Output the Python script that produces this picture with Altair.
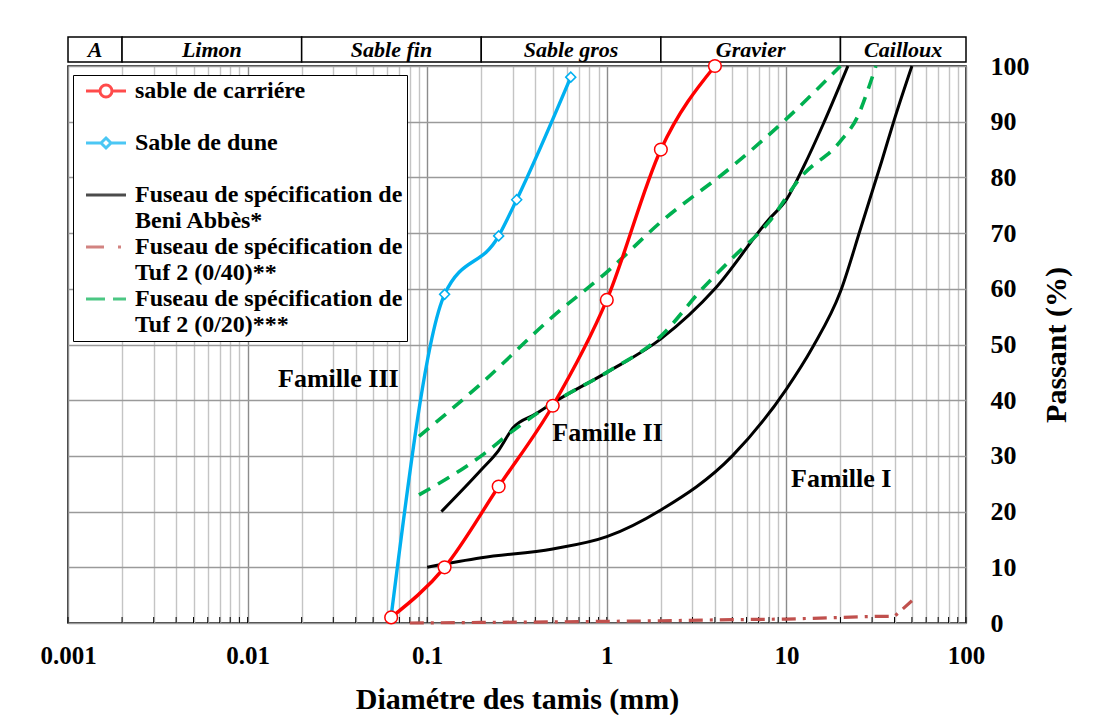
import altair as alt
import pandas as pd

# ---------------- data ----------------
carriere_x = [0.063, 0.125, 0.25, 0.5, 1, 2, 4]
carriere_y = [1, 10, 24.5, 39, 58, 85, 100]

dune_x = [0.063, 0.125, 0.25, 0.315, 0.63]
dune_y = [1.2, 59, 69.5, 76, 98]

beni_sup_x = [0.12, 0.2, 0.25, 0.3, 0.4, 0.5, 1, 2, 4, 8, 10, 12.5, 16, 22]
beni_sup_y = [20, 27.5, 31, 35, 37.5, 39.5, 45, 51, 60, 72.5, 76, 82, 89.5, 100]
beni_inf_x = [0.1, 0.2, 0.5, 1, 2, 5, 10, 14, 20, 26, 34, 40, 50]
beni_inf_y = [10, 11.7, 13.3, 15.5, 20.3, 30, 42, 49.5, 59.5, 71, 83, 90.5, 100]

tuf40_x = [0.08, 0.2, 0.5, 1, 2, 5, 10, 20, 31.5, 40, 50]
tuf40_y = [0, 0.1, 0.2, 0.3, 0.4, 0.6, 0.7, 1.0, 1.2, 1.2, 4]

tuf20_sup_x = [0.09, 0.2, 0.5, 1, 2, 5, 10, 20]
tuf20_sup_y = [33.5, 43, 55, 63, 72, 82, 90.5, 100]
tuf20_inf_x = [0.09, 0.2, 0.3, 0.5, 1, 2, 3.4, 5, 8, 12, 20, 25, 29, 31.5]
tuf20_inf_y = [23, 30, 34.5, 39.5, 45, 51.5, 60, 65.5, 72, 80, 86.5, 91, 96.5, 100]

# "|" separates the lines of a legend label
series_names = [
    "sable de carriére|",
    "Sable de dune|",
    "Fuseau de spécification de|Beni Abbès*",
    "Fuseau de spécification de|Tuf 2 (0/40)**",
    "Fuseau de spécification de|Tuf 2 (0/20)***",
]
series_colors = ["#FF0000", "#00B0F0", "#000000", "#C0504D", "#00B050"]
legend_paths = [
    "M-4,0L-1.2,0M1.2,0L4,0M1.2,0A1.2,1.2,0,1,1,-1.2,0A1.2,1.2,0,1,1,1.2,0Z",
    "M-4,0L-1,0M1,0L4,0M0,-1L1,0L0,1L-1,0Z",
    "M-4,0L4,0",
    "M-4,0L-0.4,0M2.4,0L3,0",
    "M-4,0L-0.2,0M1.4,0L4,0",
]

families = ["Famille III", "Famille II", "Famille I"]
families_x = [0.032, 1.01, 20.2]
families_y = [43.8, 34.1, 25.9]

band_names = ["A", "Limon", "Sable fin", "Sable gros", "Gravier", "Cailloux"]
band_lo = [0.001, 0.002, 0.02, 0.2, 2, 20]
band_hi = [0.002, 0.02, 0.2, 2, 20, 100]

x_ticks = [round(m * 10.0 ** e, 6) for e in range(-3, 2) for m in range(1, 10)] + [100]
y_ticks = [0, 10, 20, 30, 40, 50, 60, 70, 80, 90, 100]

# ---------------- build tables ----------------
def frame(xs, ys, name, curve):
    return pd.DataFrame({"x": xs, "y": ys, "series": name, "curve": curve})

df_car = frame(carriere_x, carriere_y, series_names[0], "c")
df_dune = frame(dune_x, dune_y, series_names[1], "d")
df_beni = pd.concat([frame(beni_sup_x, beni_sup_y, series_names[2], "sup"),
                     frame(beni_inf_x, beni_inf_y, series_names[2], "inf")])
df_t40 = frame(tuf40_x, tuf40_y, series_names[3], "t40")
df_t20 = pd.concat([frame(tuf20_sup_x, tuf20_sup_y, series_names[4], "sup"),
                    frame(tuf20_inf_x, tuf20_inf_y, series_names[4], "inf")])
df_fam = pd.DataFrame({"name": families, "x": families_x, "y": families_y})
df_band = pd.DataFrame({"name": band_names, "lo": band_lo, "hi": band_hi})
df_ticks = pd.DataFrame({"x": x_ticks})
df_leg = pd.DataFrame({"series": series_names, "x": [1] * 5, "y": [50] * 5})

FONT = "Liberation Serif"
W, H = 898, 557

xscale = alt.Scale(type="log", domain=[0.001, 100], nice=False)
yscale = alt.Scale(domain=[0, 100], nice=False)

dec_test = "indexof([0.001,0.01,0.1,1,10,100], datum.value) >= 0"
xaxis = alt.Axis(
    values=x_ticks,
    grid=True,
    gridColor={"condition": {"test": dec_test, "value": "#8c8c8c"}, "value": "#c4c4c4"},
    gridWidth=1.4,
    ticks=False, tickSize=0, domain=False,
    labelExpr=dec_test + " ? format(datum.value, '~g') : ''",
    labelFont=FONT, labelFontSize=25, labelFontWeight="bold", labelColor="black",
    labelPadding=20, labelOverlap=False, labelFlush=False,
    title="Diamétre  des tamis (mm)", titleFont=FONT, titleFontSize=30,
    titleFontWeight="bold", titleColor="black", titlePadding=16,
)
yaxis = alt.Axis(
    orient="right", values=y_ticks, grid=True, gridColor="#9a9a9a", gridWidth=1.4,
    ticks=False, tickSize=0, domain=False,
    labelFont=FONT, labelFontSize=26, labelFontWeight="bold", labelColor="black",
    labelPadding=24,
    title="Passant (%)", titleFont=FONT, titleFontSize=30, titleFontWeight="bold",
    titleColor="black", titleAngle=270, titlePadding=42,
)

X = alt.X("x:Q", scale=xscale, axis=xaxis)
Y = alt.Y("y:Q", scale=yscale, axis=yaxis)

legend = alt.Legend(
    orient="none", legendX=5, legendY=38, title=None,
    labelExpr="split(datum.label, '|')",
    labelFont=FONT, labelFontSize=24, labelFontWeight="bold", labelColor="black",
    labelLimit=600, labelOffset=17, symbolOffset=17,
    symbolSize=100, symbolStrokeWidth=3, symbolType="stroke",
    fillColor="white", strokeColor="black", padding=4, rowPadding=2,
)
C = alt.Color("series:N", scale=alt.Scale(domain=series_names, range=series_colors), legend=legend)

tick_layer = alt.Chart(df_ticks).mark_rule(color="black", strokeWidth=1).encode(
    x=X, y=alt.value(H), y2=alt.value(H - 6)
)

beni = alt.Chart(df_beni).mark_line(strokeWidth=3, interpolate="monotone").encode(
    x=X, y=Y, color=C, detail="curve:N")
t40 = alt.Chart(df_t40).mark_line(strokeWidth=3.2, strokeDash=[14, 7, 3, 7]).encode(
    x=X, y=Y, color=C)
t20 = alt.Chart(df_t20).mark_line(strokeWidth=3.6, strokeDash=[13, 9], interpolate="monotone").encode(
    x=X, y=Y, color=C, detail="curve:N")
dune_line = alt.Chart(df_dune).mark_line(strokeWidth=3.4, interpolate="monotone").encode(
    x=X, y=Y, color=C)
dune_pts = alt.Chart(df_dune).mark_point(shape="diamond", size=100, filled=True, fill="white",
                                         opacity=1, fillOpacity=1, strokeWidth=1.5).encode(
    x=X, y=Y, stroke=C)
car_line = alt.Chart(df_car).mark_line(strokeWidth=3.4, interpolate="monotone").encode(
    x=X, y=Y, color=C)
car_pts = alt.Chart(df_car).mark_point(shape="circle", size=160, filled=True, fill="white",
                                       opacity=1, fillOpacity=1, strokeWidth=1.5).encode(
    x=X, y=Y, stroke=C)

leg_layer = alt.Chart(df_leg).transform_filter("false").mark_point(filled=False, strokeWidth=3).encode(
    x=X, y=Y, color=C,
    shape=alt.Shape("series:N", scale=alt.Scale(domain=series_names, range=legend_paths), legend=legend),
)

fam = alt.Chart(df_fam).mark_text(font=FONT, fontSize=26, fontWeight="bold", color="black").encode(
    x=X, y=Y, text="name:N")

main = alt.layer(tick_layer, beni, t40, t20, dune_line, dune_pts, car_line, car_pts, fam, leg_layer).properties(
    width=W, height=H, view=alt.ViewBackground(stroke="black", strokeWidth=1.5)
)

bx = alt.X("lo:Q", scale=xscale, axis=None)
band_rect = alt.Chart(df_band).mark_rect(fill="white", stroke="black", strokeWidth=1.5).encode(
    x=bx, x2="hi:Q")
band_text = alt.Chart(df_band).transform_calculate(mid="sqrt(datum.lo*datum.hi)").mark_text(
    font=FONT, fontSize=22, fontWeight="bold", fontStyle="italic", color="black").encode(
    x=alt.X("mid:Q", scale=xscale, axis=None), text="name:N")
band = alt.layer(band_rect, band_text).properties(
    width=W, height=25, view=alt.ViewBackground(stroke=None))

chart = alt.vconcat(band, main, spacing=4, bounds="flush").properties(
    padding={"left": 39, "top": 36, "right": 2, "bottom": 2}, background="white"
)

chart.save("out.html", embed_options={"renderer": "svg", "actions": False})
